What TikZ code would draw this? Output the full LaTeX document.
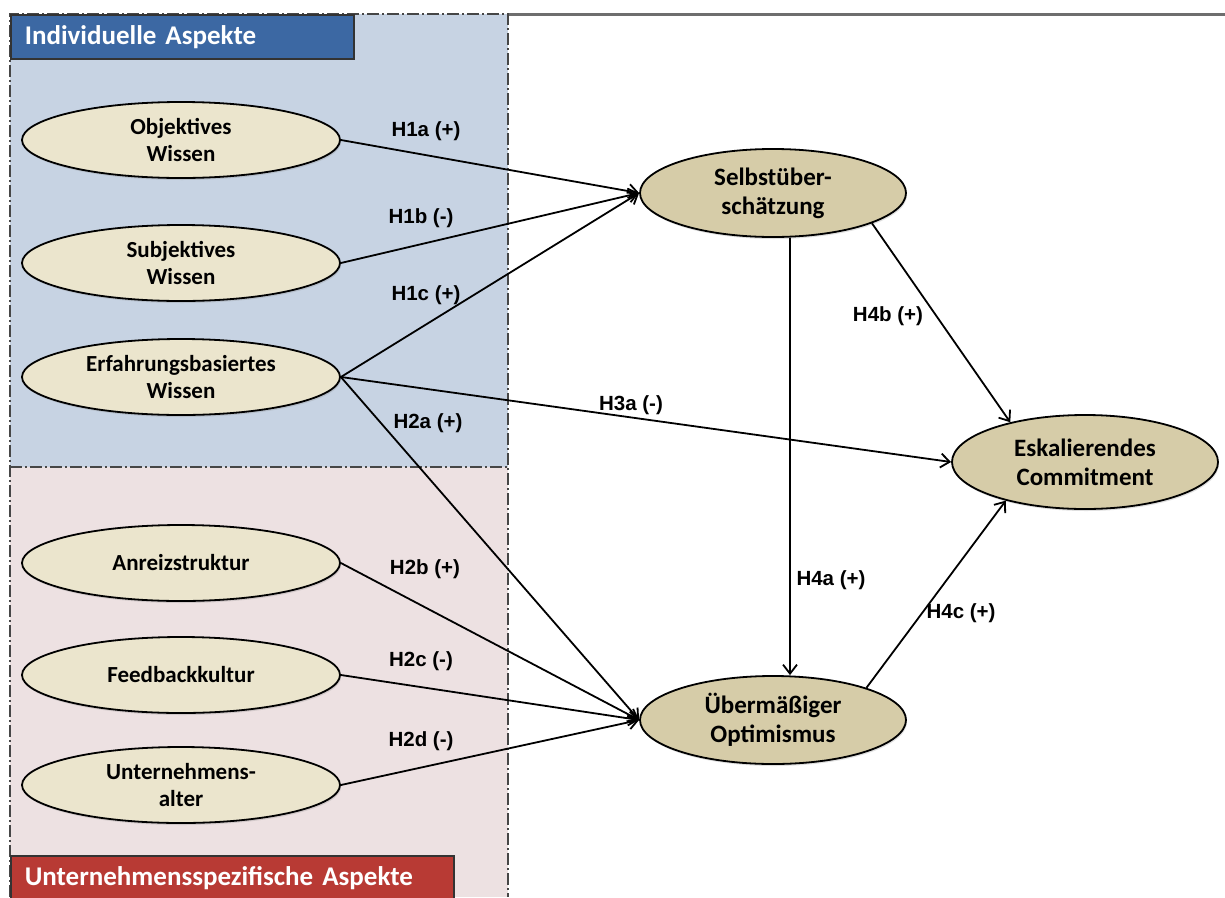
\documentclass[tikz,border=0pt]{standalone}
\usepackage{fontspec}
\newfontfamily\nodefont{Carlito}
\newfontfamily\labelfont{Liberation Sans}
\usetikzlibrary{shapes.geometric,arrows.meta,shadows}

\definecolor{indbg}{RGB}{199,211,227}
\definecolor{untbg}{RGB}{237,225,226}
\definecolor{indhead}{RGB}{60,104,163}
\definecolor{unthead}{RGB}{184,58,52}
\definecolor{lefell}{RGB}{235,229,205}
\definecolor{rigell}{RGB}{214,204,168}
\definecolor{framegray}{RGB}{70,70,70}
\definecolor{topline}{RGB}{110,110,110}

\tikzset{
  leftnode/.style={ellipse, draw=black, line width=1.8pt, fill=lefell,
    minimum width=318pt, minimum height=76pt, inner sep=0pt, align=center,
    drop shadow={opacity=0.25, shadow xshift=1pt, shadow yshift=-2pt},
    font={\nodefont\bfseries\fontsize{23}{27}\selectfont}},
  rightnode/.style={ellipse, draw=black, line width=1.8pt, fill=rigell,
    minimum width=266pt, minimum height=88pt, inner sep=0pt, align=center,
    drop shadow={opacity=0.25, shadow xshift=1pt, shadow yshift=-2pt},
    font={\nodefont\bfseries\fontsize{25}{29}\selectfont}},
  hyp/.style={font={\labelfont\bfseries\fontsize{20.5}{24}\selectfont}, inner sep=1pt},
  arr/.style={-{Straight Barb[length=9pt,width=14pt,line width=1.8pt]}, line width=1.8pt},
  regionframe/.style={draw=framegray, line width=2pt,
    dash pattern=on 12pt off 3pt on 2pt off 3pt},
  headbox/.style={draw=black!80, line width=1.6pt, text=white, anchor=north west,
    inner xsep=14pt, font={\nodefont\bfseries\fontsize{27}{31}\selectfont}}
}

\begin{document}
\begin{tikzpicture}[x=1pt,y=-1pt]
  \useasboundingbox (0,0) rectangle (1225,897);
  \fill[white] (0,0) rectangle (1225,897);

  % group backgrounds
  \fill[indbg] (10,14) rectangle (508,467);
  \fill[untbg] (10,467) rectangle (508,897);
  \draw[topline, line width=3pt] (508,14) -- (1225,14);
  \draw[regionframe] (10,897) -- (10,14) -- (508,14) -- (508,897);
  \draw[regionframe] (10,467) -- (508,467);

  % group headers
  \node[headbox, fill=indhead, minimum width=343pt, minimum height=44pt,
        text width=315pt, align=left] (indtitle) at (10,14) {Individuelle Aspekte};
  \node[headbox, fill=unthead, minimum width=443pt, minimum height=44pt,
        text width=415pt, align=left] (unttitle) at (10,855) {Unternehmensspezifische Aspekte};

  % constructs
  \node[leftnode] (obj) at (181,140) {Objektives\\Wissen};
  \node[leftnode] (sub) at (181,263) {Subjektives\\Wissen};
  \node[leftnode] (erf) at (181,377) {Erfahrungsbasiertes\\Wissen};
  \node[leftnode] (anr) at (181,563) {Anreizstruktur};
  \node[leftnode] (fee) at (181,675) {Feedbackkultur};
  \node[leftnode] (unt) at (181,785) {Unternehmens-\\alter};

  \node[rightnode] (sel) at (773,193) {Selbstüber-\\schätzung};
  \node[rightnode] (opt) at (773,720) {Übermäßiger\\Optimismus};
  \node[rightnode, minimum height=94pt] (esk) at (1085,462) {Eskalierendes\\Commitment};

  % hypotheses paths
  \draw[arr] (obj.east) -- (sel.west);
  \draw[arr] (sub.east) -- (sel.west);
  \draw[arr] (erf.east) -- (sel.west);
  \draw[arr] (erf.east) -- (esk.west);
  \draw[arr] (erf.east) -- (opt.west);
  \draw[arr] (anr.east) -- (opt.west);
  \draw[arr] (fee.east) -- (opt.west);
  \draw[arr] (unt.east) -- (opt.west);
  \draw[arr] ([xshift=17pt]sel.south) -- ([xshift=17pt]opt.north);
  \draw[arr] (sel.-17) -- (esk.152);
  \draw[arr] (opt.19) -- (esk.206);

  % path labels
  \node[hyp] (h1a) at (426,131) {H1a (+)};
  \node[hyp] (h1b) at (421,218) {H1b (-)};
  \node[hyp] (h1c) at (426,295) {H1c (+)};
  \node[hyp] (h2a) at (428,423) {H2a (+)};
  \node[hyp] (h3a) at (631,405) {H3a (-)};
  \node[hyp] (h2b) at (425,569) {H2b (+)};
  \node[hyp] (h2c) at (421,661) {H2c (-)};
  \node[hyp] (h2d) at (421,741) {H2d (-)};
  \node[hyp] (h4b) at (888,316) {H4b (+)};
  \node[hyp] (h4a) at (831,580) {H4a (+)};
  \node[hyp] (h4c) at (961,613) {H4c (+)};
\end{tikzpicture}
\end{document}
